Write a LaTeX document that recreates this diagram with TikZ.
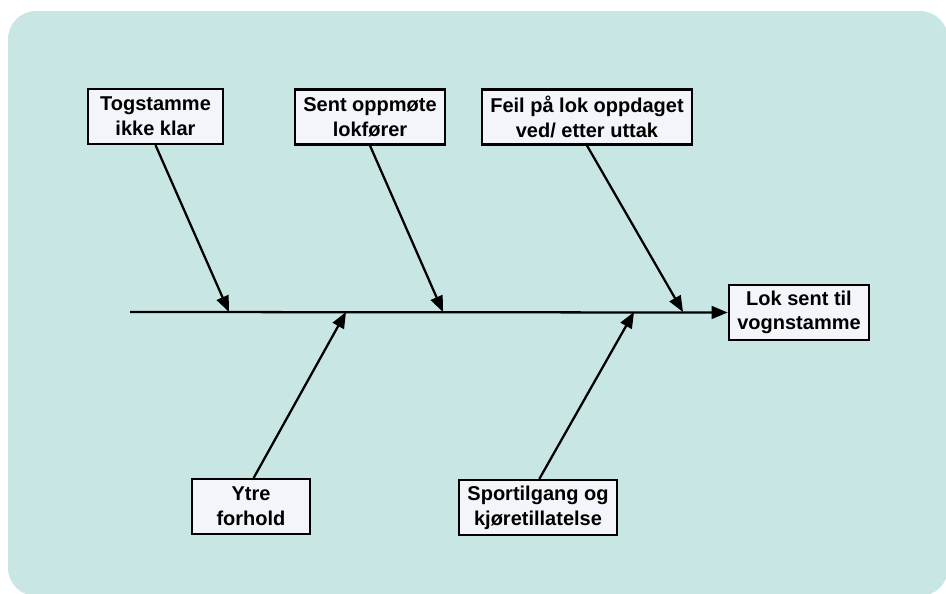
\documentclass[tikz,border=0pt]{standalone}
\usepackage{fontspec}
\setmainfont{Liberation Sans}
\usetikzlibrary{arrows.meta}

\definecolor{panelbg}{HTML}{C8E6E3}
\definecolor{boxfill}{HTML}{F3F5FB}

\begin{document}
\begin{tikzpicture}[x=0.75pt, y=-0.75pt,
    cause/.style={draw=black, line width=1.9pt, fill=boxfill, align=center,
        inner xsep=4pt, minimum height=41pt,
        font=\fontsize{15}{18.5}\selectfont\bfseries},
    bone/.style={line width=1.7pt, -{Triangle[length=12pt,width=9.5pt]}}]

\useasboundingbox (0,0) rectangle (946,593);

% --- BACKGROUND PANEL ---
\fill[panelbg, rounded corners=21pt] (8,11) rectangle (948,596);

% --- CAUSE BOXES (top row) ---
\node[cause, minimum width=101pt] (tog) at (155.5,116.5) {Togstamme\\ikke klar};
\node[cause, minimum width=112.5pt] (sent) at (370,117) {Sent oppmøte\\lokfører};
\node[cause, minimum width=157.5pt] (feil) at (587,117) {Feil på lok oppdaget\\ved/ etter uttak};

% --- CAUSE BOXES (bottom row) ---
\node[cause, minimum width=88.5pt] (ytre) at (251,506.5) {Ytre\\forhold};
\node[cause, minimum width=118.5pt] (sport) at (538,507.5) {Sportilgang og\\kjøretillatelse};

% --- EFFECT ---
\node[cause, minimum width=105pt] (lok) at (799,312.5) {Lok sent til\\vognstamme};

% --- SPINE ---
\coordinate (tail) at (130,312);
\draw[bone] (tail) -- (lok.west);

% --- BONES ---
\coordinate (t1) at (229,312);
\coordinate (t2) at (443,312);
\coordinate (t3) at (683,312);
\coordinate (b1) at (346,312);
\coordinate (b2) at (634,312);

\draw[bone] (tog.south) -- (t1);
\draw[bone] (sent.south) -- (t2);
\draw[bone] (feil.south) -- (t3);
\draw[bone] ([xshift=2pt]ytre.north) -- (b1);
\draw[bone] ([xshift=1pt]sport.north) -- (b2);

\end{tikzpicture}
\end{document}
